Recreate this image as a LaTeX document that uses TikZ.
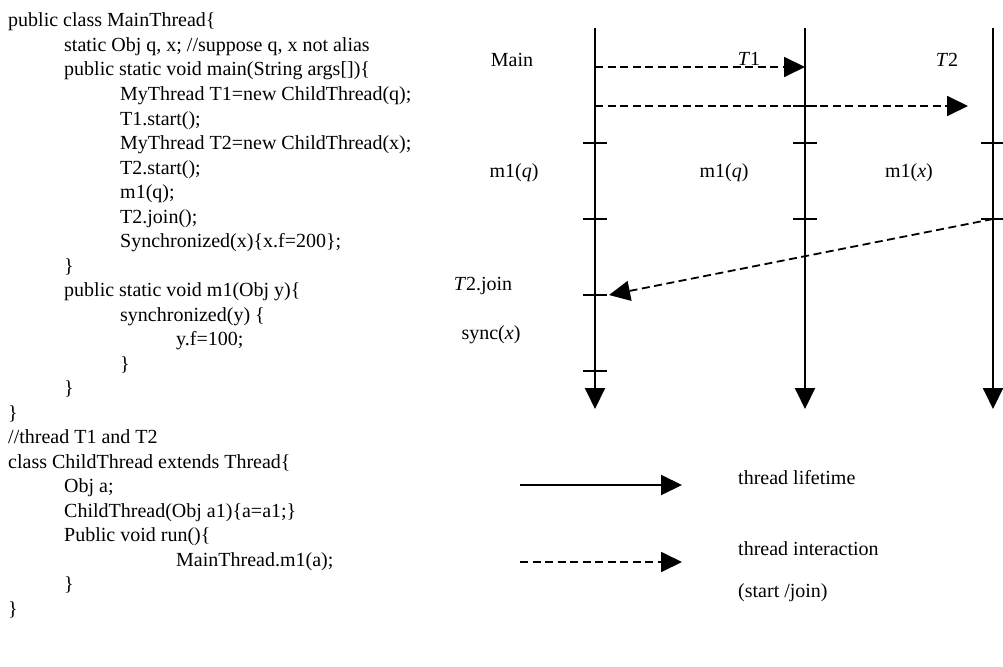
\documentclass[tikz,border=0pt]{standalone}
\usepackage{fontspec}
\setmainfont{Liberation Serif}
\usetikzlibrary{arrows.meta}

\begin{document}
\begin{tikzpicture}[x=1pt,y=-1pt,
    code/.style={anchor=base west,inner sep=0pt},
    lbl/.style={inner sep=0pt},
    life/.style={line width=2pt,-{Triangle[length=21pt,width=20pt]}},
    talk/.style={line width=1.8pt,dash pattern=on 8pt off 4.5pt,-{Triangle[length=21pt,width=20pt]}},
    tick/.style={line width=1.6pt},
    font=\fontsize{20}{24}\selectfont]
    \useasboundingbox (0,0) rectangle (1003,666);

    % program text
    \node[code] (l1) at (8,27) {public class MainThread\{};
    \node[code] (l2) at (64,51.5) {static Obj q, x; //suppose q, x not alias};
    \node[code] (l3) at (64,76) {public static void main(String args[])\{};
    \node[code] (l4) at (120,100.5) {MyThread T1=new ChildThread(q);};
    \node[code] (l5) at (120,125) {T1.start();};
    \node[code] (l6) at (120,149.5) {MyThread T2=new ChildThread(x);};
    \node[code] (l7) at (120,174) {T2.start();};
    \node[code] (l8) at (120,198.5) {m1(q);};
    \node[code] (l9) at (120,223) {T2.join();};
    \node[code] (l10) at (120,247.5) {Synchronized(x)\{x.f=200\};};
    \node[code] (l11) at (64,272) {\}};
    \node[code] (l12) at (64,296.5) {public static void m1(Obj y)\{};
    \node[code] (l13) at (120,321) {synchronized(y) \{};
    \node[code] (l14) at (176,345.5) {y.f=100;};
    \node[code] (l15) at (120,370) {\}};
    \node[code] (l16) at (64,394.5) {\}};
    \node[code] (l17) at (8,419) {\}};
    \node[code] (l18) at (8,443.5) {//thread T1 and T2};
    \node[code] (l19) at (8,468) {class ChildThread extends Thread\{};
    \node[code] (l20) at (64,492.5) {Obj a;};
    \node[code] (l21) at (64,517) {ChildThread(Obj a1)\{a=a1;\}};
    \node[code] (l22) at (64,541.5) {Public void run()\{};
    \node[code] (l23) at (176,566) {MainThread.m1(a);};
    \node[code] (l24) at (64,590.5) {\}};
    \node[code] (l25) at (8,615) {\}};

    % thread lifelines
    \coordinate (mainTop) at (595,28);
    \coordinate (mainEnd) at (595,409);
    \coordinate (t1Top) at (805,28);
    \coordinate (t1End) at (805,409);
    \coordinate (t2Top) at (993,28);
    \coordinate (t2End) at (993,409);
    \draw[life] (mainTop) -- (mainEnd);
    \draw[life] (t1Top) -- (t1End);
    \draw[life] (t2Top) -- (t2End);

    % ticks
    \foreach \xx in {595,805,993}
        \foreach \yy in {143,219}
            \draw[tick] (\xx-12,\yy) -- (\xx+12,\yy);
    \draw[tick] (793,106) -- (817,106);
    \draw[tick] (583,295) -- (607,295);
    \draw[tick] (583,371) -- (607,371);

    % start / join
    \coordinate (mainS1) at (595,67);
    \coordinate (t1S) at (805,67);
    \coordinate (mainS2) at (595,106);
    \coordinate (t2S) at (968,106);
    \coordinate (t2J) at (993,219);
    \coordinate (mainJ) at (609,295);
    \draw[talk] (mainS1) -- (t1S);
    \draw[talk] (mainS2) -- (t2S);
    \draw[talk] (t2J) -- (mainJ);

    % labels
    \node[lbl] (mainlbl) at (512,60) {Main};
    \node[lbl] (t1lbl) at (749,59) {\textit{T}1};
    \node[lbl] (t2lbl) at (947,60) {\textit{T}2};
    \node[lbl] (mq) at (514,173) {m1(\textit{q})};
    \node[lbl] (tq) at (724,173) {m1(\textit{q})};
    \node[lbl] (tx) at (909,173) {m1(\textit{x})};
    \node[lbl] (joinlbl) at (483,286) {\textit{T}2.join};
    \node[lbl] (synclbl) at (491,335) {sync(\textit{x})};

    % legend
    \coordinate (lifeA) at (520,485);
    \coordinate (lifeB) at (682,485);
    \coordinate (talkA) at (520,562);
    \coordinate (talkB) at (682,562);
    \draw[life] (lifeA) -- (lifeB);
    \draw[talk] (talkA) -- (talkB);
    \node[lbl,anchor=west] (lifetxt) at (738,478) {thread lifetime};
    \node[lbl,anchor=west] (talktxt) at (738,549) {thread interaction};
    \node[lbl,anchor=west] (sjtxt) at (738,593) {(start /join)};
\end{tikzpicture}
\end{document}
